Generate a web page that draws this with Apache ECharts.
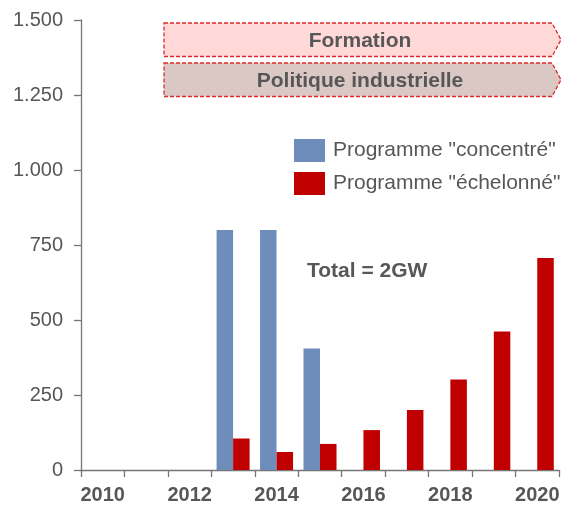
<!DOCTYPE html>
<html>
<head>
<meta charset="utf-8">
<script src="https://cdn.jsdelivr.net/npm/echarts@6/dist/echarts.min.js"></script>
<style>
html,body{margin:0;padding:0;background:#fff;}
#main{width:567px;height:509px;}
</style>
</head>
<body>
<div id="main"></div>
<script>
// données
var years = ['2010','2011','2012','2013','2014','2015','2016','2017','2018','2019','2020'];
var concentre = [null, null, null, 800, 800, 405, null, null, null, null, null];
var echelonne = [null, null, null, 105, 60, 87, 133, 200, 302, 462, 707];
var yTicks = [0, 250, 500, 750, 1000, 1250, 1500];

var txt = '#575757';
var font = '"Liberation Sans", Arial, sans-serif';

function fmt(v){
    // séparateur de milliers à la française
    return String(v).replace(/\B(?=(\d{3})+(?!\d))/g, '.');
}

function banner(y0, y1, fill, label){
    var ym = (y0 + y1) / 2;
    return [{
        type: 'polygon',
        shape: { points: [[164, y0], [552, y0], [561, ym], [552, y1], [164, y1]] },
        style: { fill: fill, stroke: '#dd2a2a', lineWidth: 1.3, lineDash: [4, 2] },
        z: 10
    }, {
        type: 'text',
        x: 360, y: ym + 1.5,
        style: { text: label, fill: txt, font: 'bold 21px ' + font, align: 'center', verticalAlign: 'middle' },
        z: 11
    }];
}

var myChart = echarts.init(document.getElementById('main'));
myChart.setOption({
    animation: false,
    textStyle: { fontFamily: font },
    grid: { left: 81, right: 8, top: 20, bottom: 39 },
    legend: {
        orient: 'vertical',
        left: 294, top: 139,
        padding: 0,
        itemWidth: 31, itemHeight: 23, itemGap: 10,
        icon: 'rect',
        textStyle: { color: txt, fontSize: 21, padding: [0, 0, 0, 3] },
        data: ['Programme "concentré"', 'Programme "échelonné"']
    },
    xAxis: {
        type: 'category',
        data: years,
        axisLine: { lineStyle: { color: '#767676', width: 1.3 } },
        axisTick: { show: true, length: 7, interval: 0, lineStyle: { color: '#767676', width: 1.3 } },
        axisLabel: { interval: 1, color: txt, fontSize: 20, fontWeight: 'bold', margin: 15 }
    },
    yAxis: {
        type: 'value',
        min: yTicks[0], max: yTicks[yTicks.length - 1], interval: 250,
        splitLine: { show: false },
        axisLine: { show: true, lineStyle: { color: '#767676', width: 1.3 } },
        axisTick: { show: true, length: 7, lineStyle: { color: '#767676', width: 1.3 } },
        axisLabel: { color: txt, fontSize: 20, margin: 18, formatter: fmt }
    },
    series: [{
        name: 'Programme "concentré"',
        type: 'bar',
        data: concentre,
        barGap: '0%',
        barCategoryGap: '24%',
        itemStyle: { color: '#6f8dba' }
    }, {
        name: 'Programme "échelonné"',
        type: 'bar',
        data: echelonne,
        barGap: '0%',
        barCategoryGap: '24%',
        itemStyle: { color: '#c00000' }
    }],
    graphic: banner(23, 56.5, '#ffd8d8', 'Formation')
        .concat(banner(63, 96.5, '#d9c8c4', 'Politique industrielle'))
        .concat([{
            type: 'text',
            x: 307, y: 271,
            style: { text: 'Total = 2GW', fill: txt, font: 'bold 21px ' + font, verticalAlign: 'middle' }
        }])
});
</script>
</body>
</html>
